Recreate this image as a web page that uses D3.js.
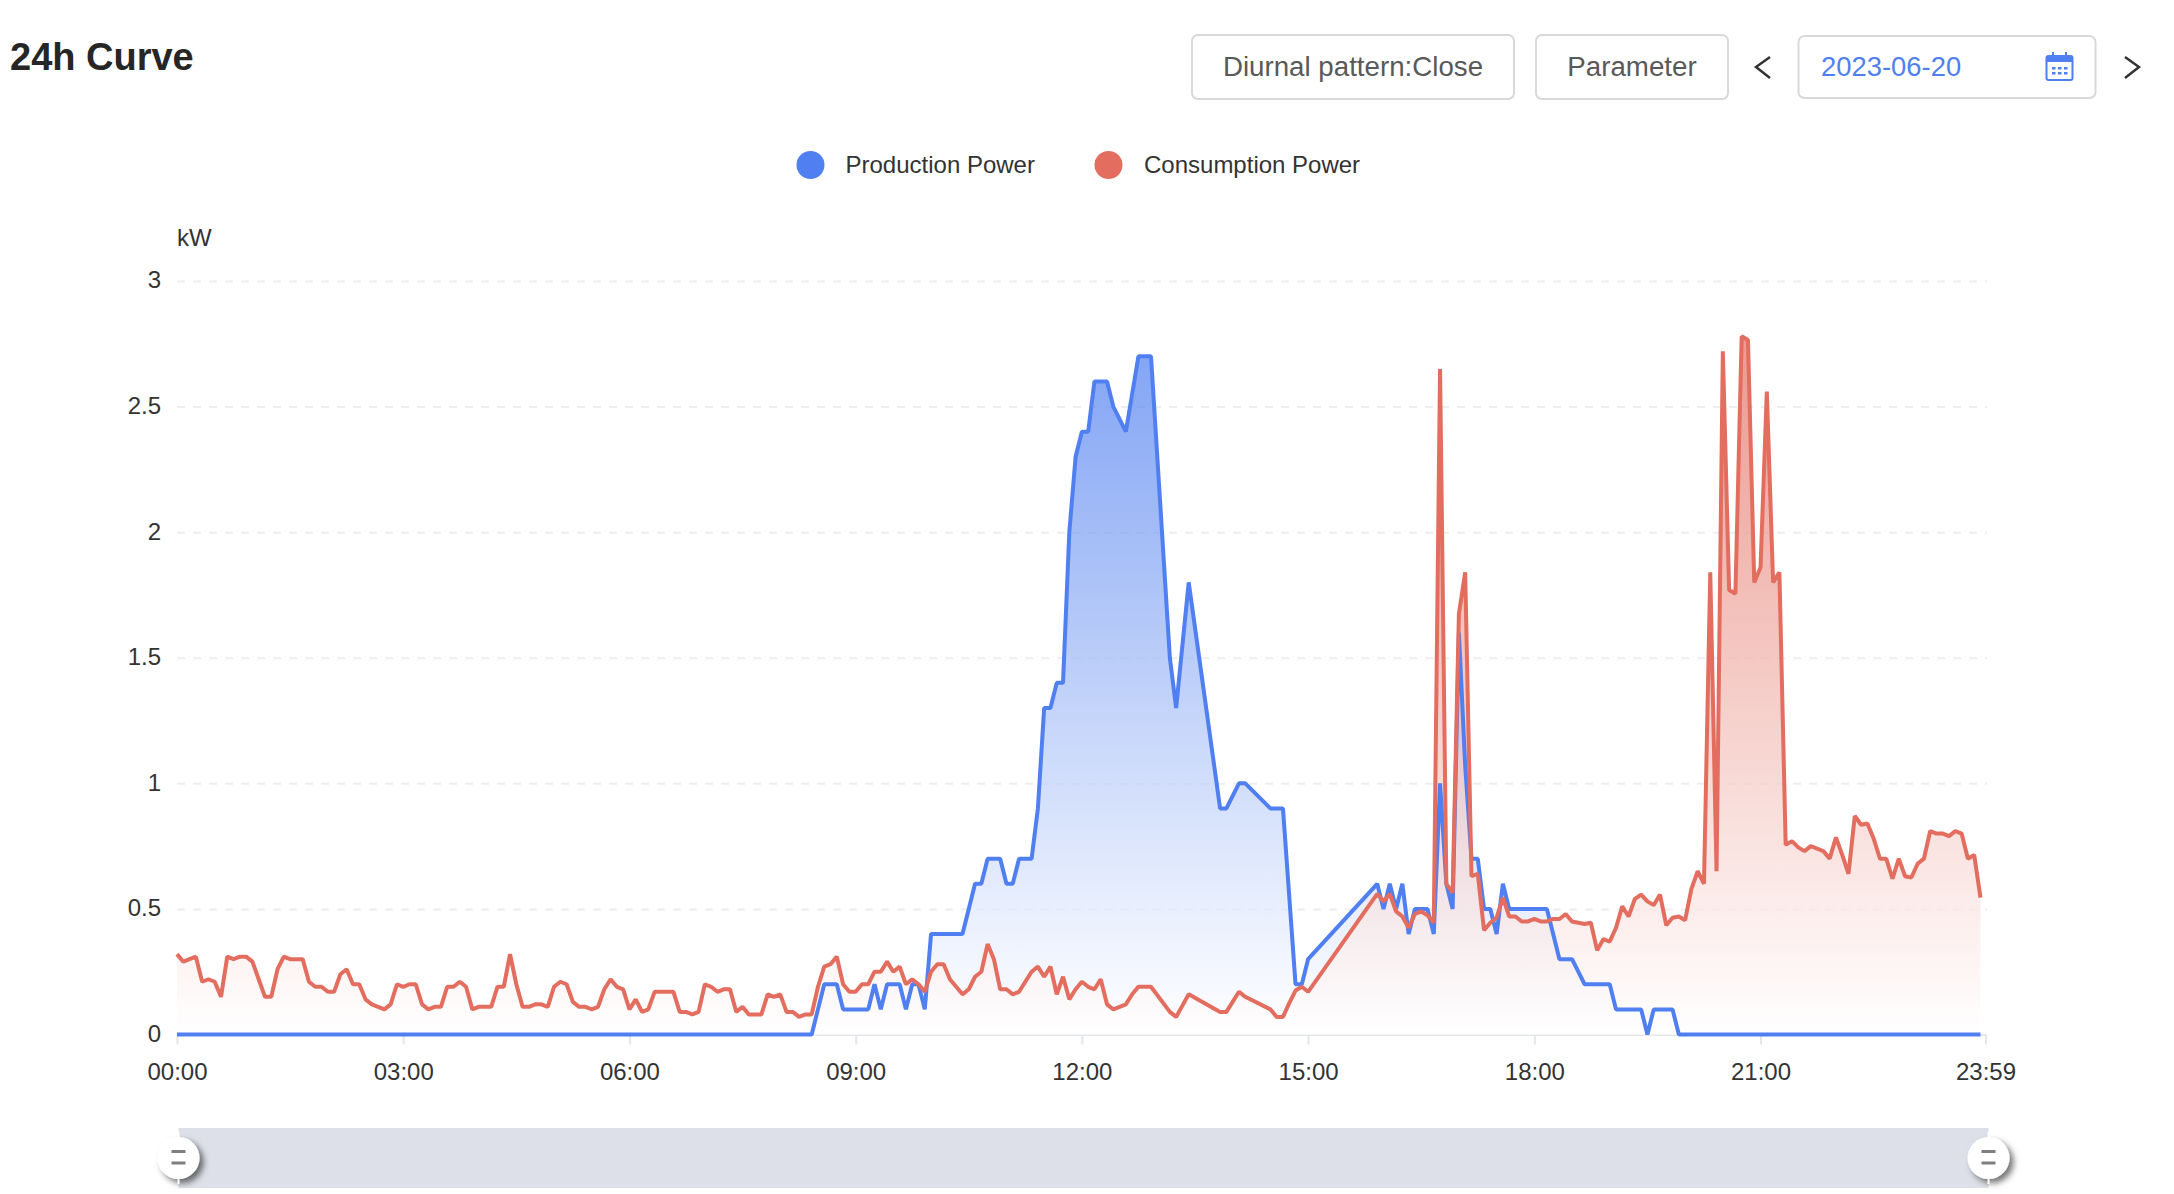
<!DOCTYPE html>
<html lang="en">
<head>
    <meta charset="UTF-8">
    <title>24h Curve</title>
    <script src="https://cdn.jsdelivr.net/npm/d3@7"></script>
    <style type="text/css">
        html, body { margin: 0; padding: 0; background: #fff; }
        svg { display: block; }
        text { font-family: "Liberation Sans", sans-serif; }
        .axis path, .axis line { stroke: #e4e6ea; stroke-width: 2; fill: none; }
        .axis text { font-size: 24px; fill: #333; font-family: "Liberation Sans", sans-serif; }
        .grid line { stroke: #eeeeee; stroke-width: 2; stroke-dasharray: 8 8; }
        .grid path { display: none; }
        .btn rect { fill: #fff; stroke: #d9d9d9; stroke-width: 2; }
        .btn text { font-size: 27.7px; fill: #595959; }
    </style>
</head>
<body>
<script>
// sampled every 5 minutes, null where the logger has no sample
const sampleMinutes = d3.range(0, 1440, 5);

const productionPower = [
    0,0,0,0,0,0,0,0,0,0,0,0,
    0,0,0,0,0,0,0,0,0,0,0,0,
    0,0,0,0,0,0,0,0,0,0,0,0,
    0,0,0,0,0,0,0,0,0,0,0,0,
    0,0,0,0,0,0,0,0,0,0,0,0,
    0,0,0,0,0,0,0,0,0,0,0,0,
    0,0,0,0,0,0,0,0,0,0,0,0,
    0,0,0,0,0,0,0,0,0,0,0,0,
    0,0,0,0,0,0,.1,.2,.2,.2,.1,.1,
    .1,.1,.1,.2,.1,.2,.2,.2,.1,.2,.2,.1,
    .4,.4,.4,.4,.4,.4,.5,.6,.6,.7,.7,.7,
    .6,.6,.7,.7,.7,.9,1.3,1.3,1.4,1.4,2.0,2.3,
    2.4,2.4,2.6,2.6,2.6,2.5,2.45,2.4,2.55,2.7,2.7,2.7,
    null,null,1.5,1.3,1.55,1.8,null,null,null,null,.9,.9,
    null,1.0,1.0,null,null,null,.9,.9,.9,.55,.2,.2,
    .3,null,null,null,null,null,null,null,null,null,null,.6,
    .5,.6,.5,.6,.4,.5,.5,.5,.4,1.0,.6,.5,
    1.6,1.07,.7,.7,.5,.5,.4,.6,.5,.5,.5,.5,
    .5,.5,.5,.4,.3,.3,.3,.25,.2,.2,.2,.2,
    .2,.1,.1,.1,.1,.1,0,.1,.1,.1,.1,0,
    0,0,0,0,0,0,0,0,0,0,0,0,
    0,0,0,0,0,0,0,0,0,0,0,0,
    0,0,0,0,0,0,0,0,0,0,0,0,
    0,0,0,0,0,0,0,0,0,0,0,0
];

const consumptionPower = [
    .32,.29,.30,.31,.21,.22,.21,.15,.31,.30,.31,.31,
    .29,.22,.15,.15,.26,.31,.30,.30,.30,.21,.19,.19,
    .17,.17,.24,.26,.20,.20,.14,.12,.11,.10,.12,.20,
    .19,.20,.20,.12,.10,.11,.11,.19,.19,.21,.19,.10,
    .11,.11,.11,.19,.19,.32,.20,.11,.11,.12,.12,.11,
    .19,.21,.20,.13,.11,.11,.10,.11,.18,.22,.19,.18,
    .10,.14,.09,.10,.17,.17,.17,.17,.09,.09,.08,.09,
    .20,.19,.17,.18,.18,.09,.11,.08,.08,.08,.16,.15,
    .16,.09,.09,.07,.08,.08,.19,.27,.28,.31,.20,.17,
    .17,.20,.20,.25,.25,.29,.25,.27,.20,.22,.20,.17,
    .25,.28,.28,.22,.19,.16,.18,.23,.25,.36,.30,.18,
    .18,.16,.17,.21,.25,.27,.23,.27,.16,.23,.14,.18,
    .21,.19,.18,.22,.12,.10,.11,.12,.16,.19,.19,.19,
    null,null,.09,.07,.115,.16,null,null,null,null,.09,.09,
    null,.17,.15,null,null,null,.10,.07,.07,.125,.175,.19,
    .17,null,null,null,null,null,null,null,null,null,null,.56,
    .53,.56,.49,.47,.425,.48,.49,.475,.445,2.65,.60,.565,
    1.675,1.84,.63,.64,.415,.445,.465,.545,.47,.47,.45,.45,
    .46,.45,.45,.46,.46,.48,.45,.445,.44,.445,.335,.38,
    .37,.425,.51,.47,.54,.557,.53,.515,.557,.435,.465,.47,
    .455,.58,.65,.60,1.84,.65,2.72,1.77,1.755,2.78,2.765,1.80,
    1.86,2.56,1.80,1.84,.755,.77,.745,.73,.75,.74,.73,.70,
    .785,.715,.64,.87,.835,.84,.78,.70,.70,.62,.70,.63,
    .625,.68,.70,.81,.80,.80,.79,.81,.80,.70,.715,.545
];

const seriesNames = ["Production Power", "Consumption Power"];
const seriesColors = ["#4f7ff0", "#e36d5f"];
const xTickMinutes = [0, 180, 360, 540, 720, 900, 1080, 1260, 1439];
const xTickLabels = ["00:00", "03:00", "06:00", "09:00", "12:00", "15:00", "18:00", "21:00", "23:59"];
const yTickValues = [0, 0.5, 1, 1.5, 2, 2.5, 3];

const w = 2174, h = 1194;
const svg = d3.select("body").append("svg").attr("width", w).attr("height", h);
const defs = svg.append("defs");

const xScale = d3.scaleLinear().domain([0, 1439]).range([177, 1985.5]);
const yScale = d3.scaleLinear().domain([0, 3]).range([1034.5, 281]);

// header
svg.append("text").attr("x", 10).attr("y", 70)
    .attr("font-size", 38).attr("font-weight", "bold").attr("fill", "#262626")
    .text("24h Curve");

function button(x0, x1, y0, y1, label) {
    const g = svg.append("g").attr("class", "btn");
    g.append("rect").attr("x", x0).attr("y", y0).attr("width", x1 - x0).attr("height", y1 - y0).attr("rx", 6);
    if (label) {
        g.append("text").attr("x", (x0 + x1) / 2).attr("y", 76).attr("text-anchor", "middle").text(label);
    }
}
button(1192, 1514, 35, 99, "Diurnal pattern:Close");
button(1536, 1728, 35, 99, "Parameter");
button(1798.5, 2095.5, 36, 98, null);

svg.append("text").attr("x", 1821).attr("y", 76)
    .attr("font-size", 27.4).attr("fill", seriesColors[0])
    .text("2023-06-20");

const chevron = d3.line();
svg.append("path").attr("d", chevron([[1770, 57], [1756, 67], [1770, 78]]))
    .attr("fill", "none").attr("stroke", "#333").attr("stroke-width", 2.5);
svg.append("path").attr("d", chevron([[2125, 57], [2139, 67], [2125, 78]]))
    .attr("fill", "none").attr("stroke", "#333").attr("stroke-width", 2.5);

// calendar icon
const cal = svg.append("g").attr("fill", seriesColors[0]);
cal.append("rect").attr("x", 2046.5).attr("y", 56).attr("width", 26).attr("height", 24).attr("rx", 2)
    .attr("fill", "#fff").attr("stroke", seriesColors[0]).attr("stroke-width", 2);
cal.append("rect").attr("x", 2046.5).attr("y", 56).attr("width", 26).attr("height", 6);
cal.append("rect").attr("x", 2052).attr("y", 52).attr("width", 2).attr("height", 6);
cal.append("rect").attr("x", 2065).attr("y", 52).attr("width", 2).attr("height", 6);
[2052, 2058, 2064].forEach(x => {
    [67, 72].forEach(y => {
        cal.append("rect").attr("x", x).attr("y", y).attr("width", 3.5).attr("height", 2.5);
    });
});

// legend
const legendCx = [810.5, 1108.5];
const legendTx = [845.5, 1144];
seriesNames.forEach((name, i) => {
    svg.append("circle").attr("cx", legendCx[i]).attr("cy", 165).attr("r", 14).attr("fill", seriesColors[i]);
    svg.append("text").attr("x", legendTx[i]).attr("y", 173)
        .attr("font-size", 24).attr("fill", "#333").text(name);
});

svg.append("text").attr("x", 177).attr("y", 246)
    .attr("font-size", 24).attr("fill", "#333").text("kW");

// grid and axes
svg.append("g").attr("class", "grid")
    .attr("transform", "translate(177,0)")
    .call(d3.axisLeft(yScale).tickValues(yTickValues.slice(1)).tickSize(-1810).tickFormat(""));

svg.append("g").attr("class", "axis")
    .attr("transform", "translate(0,1034.5)")
    .call(d3.axisBottom(xScale).tickValues(xTickMinutes)
        .tickFormat((d, i) => xTickLabels[i]).tickSize(10).tickSizeOuter(0).tickPadding(18.5));

const yAxis = svg.append("g").attr("class", "axis")
    .attr("transform", "translate(177,0)")
    .call(d3.axisLeft(yScale).tickValues(yTickValues).tickSize(0).tickPadding(16).tickFormat(d3.format("~g")));
yAxis.select(".domain").remove();
yAxis.selectAll("text").attr("dy", ".29em");

// series: areas first, lines on top of both
const line = d3.line().x(d => xScale(d.t)).y(d => yScale(d.v));
const area = d3.area().x(d => xScale(d.t)).y0(yScale(0)).y1(d => yScale(d.v));

const seriesPts = [productionPower, consumptionPower].map(values =>
    values.map((v, j) => ({ t: sampleMinutes[j], v: v })).filter(d => d.v !== null));

seriesPts.forEach((pts, i) => {
    // fades to a whitish veil, so the red area washes out the blue one under it
    const grad = defs.append("linearGradient").attr("id", "fill" + i)
        .attr("gradientUnits", "userSpaceOnUse")
        .attr("x1", 0).attr("x2", 0)
        .attr("y1", yScale(d3.max(pts, d => d.v))).attr("y2", yScale(0));
    grad.append("stop").attr("offset", 0).attr("stop-color", seriesColors[i]).attr("stop-opacity", 0.7);
    grad.append("stop").attr("offset", 1).attr("stop-color", "#fff").attr("stop-opacity", 0.7);

    svg.append("path").attr("d", area(pts)).attr("fill", "url(#fill" + i + ")");
});

seriesPts.forEach((pts, i) => {
    svg.append("path").attr("d", line(pts))
        .attr("fill", "none").attr("stroke", seriesColors[i])
        .attr("stroke-width", 4).attr("stroke-linejoin", "bevel");
});

// data zoom slider
const shadow = defs.append("filter").attr("id", "handleShadow")
    .attr("x", "-50%").attr("y", "-50%").attr("width", "200%").attr("height", "200%");
shadow.append("feDropShadow").attr("dx", 4).attr("dy", 4).attr("stdDeviation", 3)
    .attr("flood-color", "#000").attr("flood-opacity", 0.55);

svg.append("rect").attr("x", 178.5).attr("y", 1128).attr("width", 1810).attr("height", 60).attr("fill", "#dde0e8");

[178.5, 1988.5].forEach(cx => {
    const g = svg.append("g");
    g.append("circle").attr("cx", cx).attr("cy", 1158).attr("r", 21)
        .attr("fill", "#fff").attr("filter", "url(#handleShadow)");
    g.append("rect").attr("x", cx - 1).attr("y", 1132).attr("width", 2).attr("height", 52).attr("fill", "#fff");
    [1151.5, 1163].forEach(y => {
        g.append("rect").attr("x", cx - 7).attr("y", y - 1.5).attr("width", 14).attr("height", 3).attr("fill", "#7f7f7f");
    });
});
</script>
</body>
</html>
